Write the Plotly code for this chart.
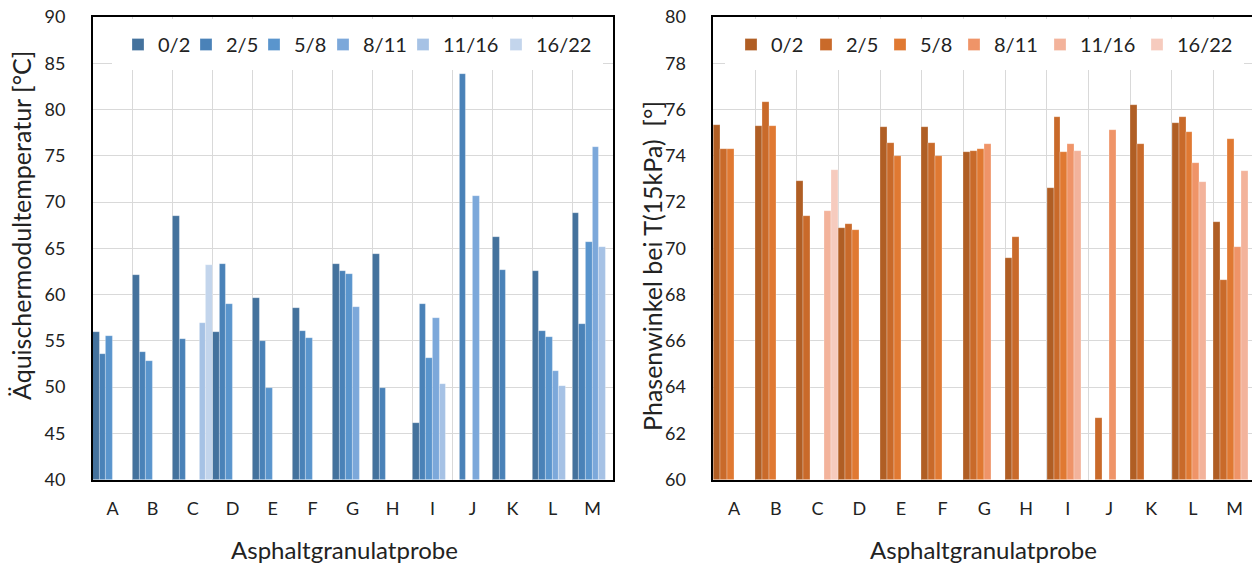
import plotly.graph_objects as go

categories = ["A", "B", "C", "D", "E", "F", "G", "H", "I", "J", "K", "L", "M"]
series = ["0/2", "2/5", "5/8", "8/11", "11/16", "16/22"]

# Left chart: Äquischermodultemperatur [°C]
temp_0_2 = [55.9, 62.1, 68.5, 56.0, 59.6, 58.5, 63.3, 64.4, 46.1, None, 66.2, 62.5, 68.8]
temp_2_5 = [53.6, 53.8, 55.2, 63.3, 55.0, 56.1, 62.5, 49.9, 59.0, 83.8, 62.7, 56.1, 56.8]
temp_5_8 = [55.5, 52.8, None, 59.0, 49.9, 55.3, 62.2, None, 53.1, None, None, 55.4, 65.7]
temp_8_11 = [None, None, None, None, None, None, 58.6, None, 57.5, 70.7, None, 51.7, 75.9]
temp_11_16 = [None, None, 56.9, None, None, None, None, None, 50.3, None, None, 50.1, 65.1]
temp_16_22 = [None, None, 63.2, None, None, None, None, None, None, None, None, None, None]

# Right chart: Phasenwinkel bei T(15kPa) [°]
phase_0_2 = [75.34, 75.27, 72.91, 70.88, 75.24, 75.24, 74.15, 69.59, 72.62, None, 76.20, 75.42, 71.13]
phase_2_5 = [74.30, 76.33, 71.39, 71.04, 74.57, 74.57, 74.21, 70.49, 75.67, 62.65, 74.52, 75.67, 68.64]
phase_5_8 = [74.30, 75.28, None, 70.78, 73.98, 73.98, 74.28, None, 74.18, None, None, 75.02, 74.72]
phase_8_11 = [None, None, None, None, None, None, 74.50, None, 74.52, 75.12, None, 73.68, 70.06]
phase_11_16 = [None, None, 71.60, None, None, None, None, None, 74.21, None, None, 72.86, 73.36]
phase_16_22 = [None, None, 73.38, None, None, None, None, None, None, None, None, None, None]

temp_series = [temp_0_2, temp_2_5, temp_5_8, temp_8_11, temp_11_16, temp_16_22]
phase_series = [phase_0_2, phase_2_5, phase_5_8, phase_8_11, phase_11_16, phase_16_22]

blues = ["#44729D", "#4A82B8", "#5A95CD", "#7CA8DA", "#A6C2E5", "#C3D5EC"]
oranges = ["#B05E24", "#C96A2A", "#E07932", "#EF9468", "#F3B39B", "#F6CBBE"]
left_legend_widths = [23, 23, 24, 35, 48, None]
right_legend_widths = [30, 29, 29, 41, 52, None]

FONT = "Lato, Calibri, 'Noto Sans', sans-serif"
TXT = "#222222"

fig = go.Figure()
for name, vals, col, lw in zip(series, temp_series, blues, left_legend_widths):
    kw = {} if lw is None else {"legendwidth": lw}
    fig.add_trace(go.Bar(x=categories, y=vals, name=name, marker_color=col,
                         marker_line=dict(color="rgba(255,255,255,0.45)", width=0.6),
                         xaxis="x", yaxis="y", legend="legend", **kw))
for name, vals, col, lw in zip(series, phase_series, oranges, right_legend_widths):
    kw = {} if lw is None else {"legendwidth": lw}
    fig.add_trace(go.Bar(x=categories, y=vals, name=name, marker_color=col,
                         marker_line=dict(color="rgba(255,255,255,0.45)", width=0.6),
                         xaxis="x2", yaxis="y2", legend="legend2", **kw))

W, H = 1252, 564
left_x = [92.7 / W, 612.5 / W]
right_x = [713.3 / W, 1.0]
ydom = [1 - 479.5 / H, 1 - 17 / H]

grid = "#D9D9D9"
common_x = dict(type="category", tickson="boundaries", ticks="", showgrid=True,
                gridcolor=grid, gridwidth=1.3, showline=True, linecolor="black",
                linewidth=1.5, tickfont=dict(size=18, color=TXT),
                ticklabelstandoff=12, automargin=False)
common_y = dict(showgrid=True, gridcolor=grid, gridwidth=1.3, showline=True,
                linecolor="black", linewidth=1.5, ticks="", ticklabelstandoff=22,
                tickfont=dict(size=18, color=TXT), automargin=False)

xtitle_font = dict(size=24, color=TXT, family=FONT)
ytitle_font = dict(size=25, color=TXT, family=FONT)

legend_common = dict(orientation="h", xanchor="left", yanchor="top",
                     bgcolor="white", bordercolor="white", borderwidth=6,
                     font=dict(size=20, color=TXT), itemwidth=30, traceorder="normal")

fig.update_layout(
    width=W, height=H,
    margin=dict(l=0, r=0, t=0, b=0, autoexpand=False),
    paper_bgcolor="white", plot_bgcolor="white",
    font=dict(family=FONT, color=TXT),
    barmode="group", bargap=0, bargroupgap=0,
    xaxis=dict(domain=left_x, anchor="y", mirror=True, range=[-0.5, 12.5], **common_x),
    xaxis2=dict(domain=right_x, anchor="y2", mirror=True, range=[-0.5, 12.42], **common_x),
    yaxis=dict(domain=ydom, anchor="x", range=[40, 90], dtick=5, mirror=True, **common_y),
    yaxis2=dict(domain=ydom, anchor="x2", range=[60, 80], dtick=2, mirror=False, **common_y),
    legend=dict(x=112 / W, y=1 - 19 / H, **legend_common),
    legend2=dict(x=725 / W, y=1 - 19 / H, **legend_common),
    showlegend=True,
    annotations=[
        dict(text="Äquischermodultemperatur [°C]", x=21 / W, y=1 - 226 / H,
             xref="paper", yref="paper", textangle=-90, showarrow=False,
             xanchor="center", yanchor="middle", font=ytitle_font),
        dict(text="Phasenwinkel bei T(15kPa)\u00a0 [°]", x=652 / W, y=1 - 266 / H,
             xref="paper", yref="paper", textangle=-90, showarrow=False,
             xanchor="center", yanchor="middle", font=ytitle_font),
        dict(text="Asphaltgranulatprobe", x=344 / W, y=1 - 549 / H,
             xref="paper", yref="paper", showarrow=False,
             xanchor="center", yanchor="middle", font=xtitle_font),
        dict(text="Asphaltgranulatprobe", x=983 / W, y=1 - 549 / H,
             xref="paper", yref="paper", showarrow=False,
             xanchor="center", yanchor="middle", font=xtitle_font),
    ],
)

fig.write_html("out.html")
